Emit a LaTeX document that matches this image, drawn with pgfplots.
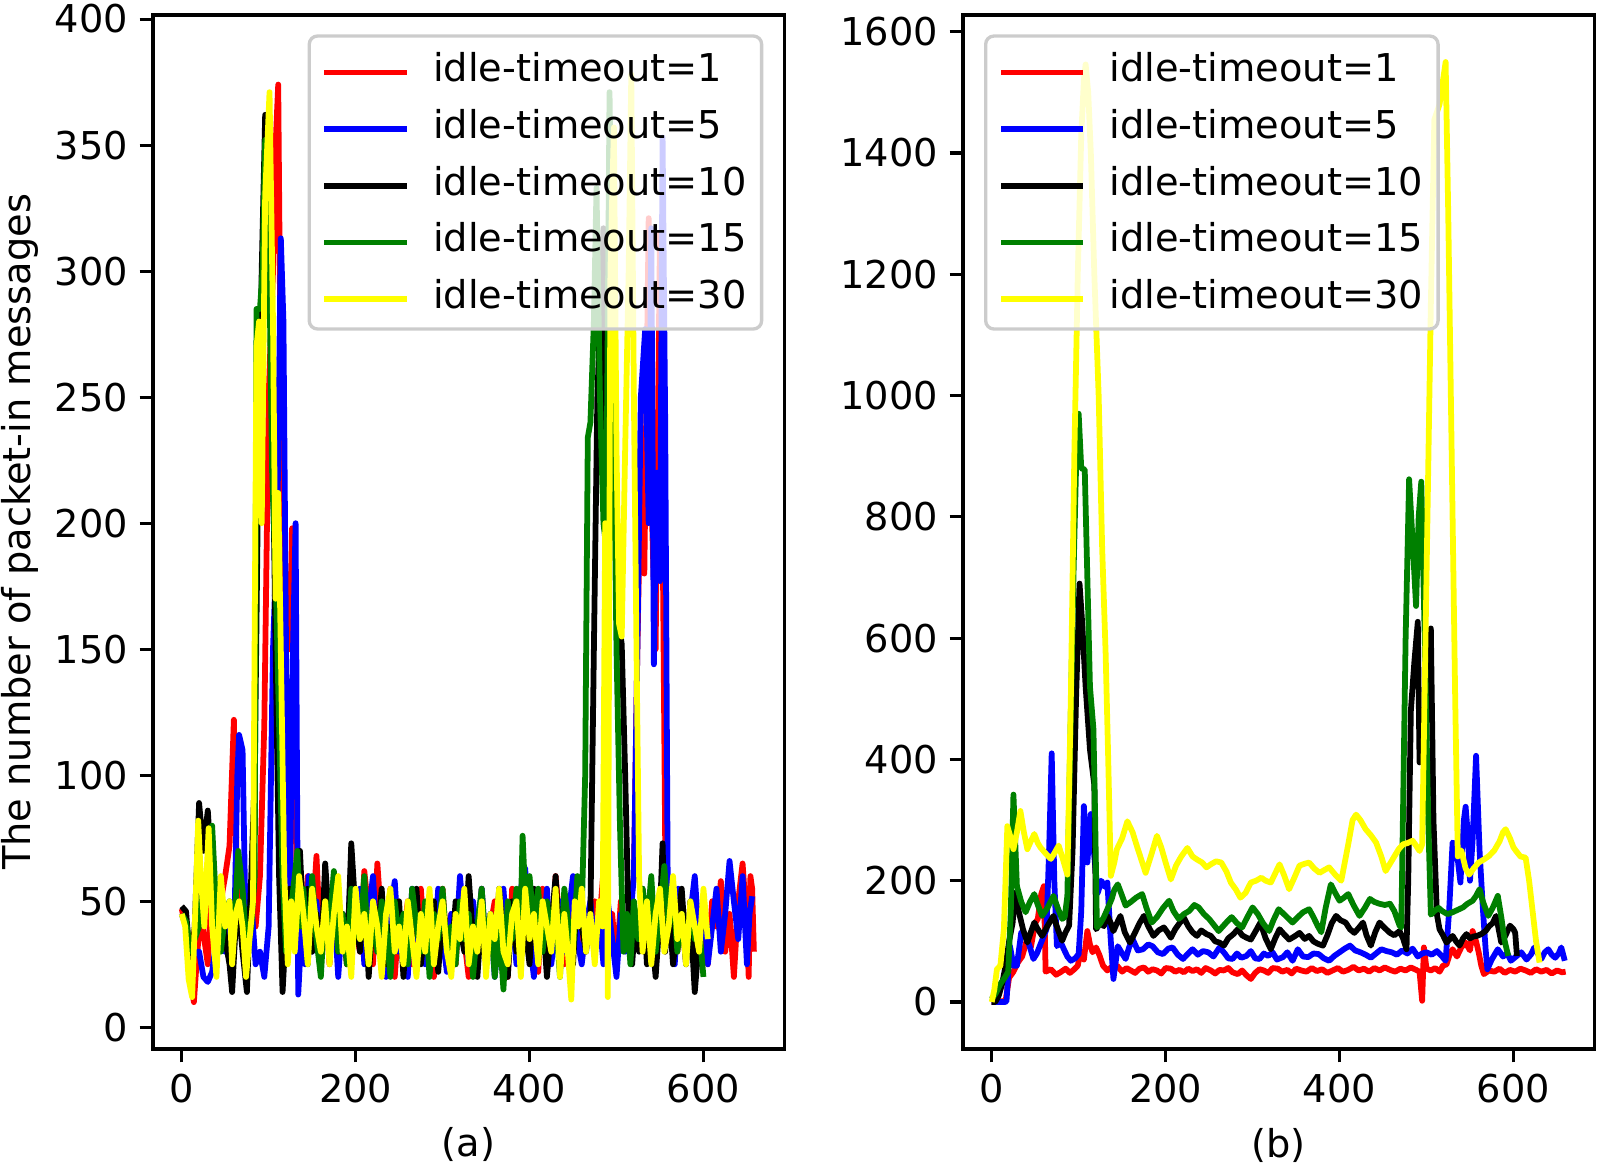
\documentclass[border=0pt]{standalone}
\usepackage{fontspec}
\setmainfont{DejaVu Sans}
\usepackage{pgfplots}
\pgfplotsset{compat=1.18}
\newcommand{\fs}{\fontsize{11.5}{13.8}\selectfont}
\definecolor{mgreen}{HTML}{008000}
\definecolor{myellow}{HTML}{FFFF00}
\pgfplotsset{
  panel/.style={
    scale only axis, width=189.4pt, height=310.2pt,
    xmin=-33, xmax=693, xtick={0,200,400,600},
    axis line style={line width=0.92pt},
    tick align=outside, xtick pos=bottom, ytick pos=left,
    major tick length=4pt,
    every tick/.style={black, line width=0.92pt},
    /pgf/number format/assume math mode=true,
    /pgf/number format/1000 sep={},
    scaled y ticks=false,
    tick label style={font=\fs},
    label style={font=\fs},
    xlabel style={at={(axis description cs:0.5,-0.0928)}, anchor=center},
    legend style={font=\fs, draw=black!20, line width=1pt, fill=white,
      fill opacity=0.8, text opacity=1, draw opacity=1, rounded corners=2.5pt,
      inner xsep=4.5pt, inner ysep=5pt, row sep=7.1pt, column sep=8pt,
      nodes={inner sep=0pt, text height=8.7pt, text depth=1.2pt}},
    legend cell align=left,
    legend image code/.code={\draw[##1, line cap=rect] (0pt,-1pt) -- (23pt,-1pt);},
    every axis plot/.append style={line width=1.73pt, line join=round},
  }
}
\begin{document}
\begin{tikzpicture}
\useasboundingbox (0,0) rectangle (480pt,349.2pt);
\begin{axis}[panel, at={(45.9pt,34.5pt)}, anchor=south west,
  ymin=-8.6, ymax=401.6, ytick={0,50,...,400},
  xlabel={(a)}, ylabel={The number of packet-in messages},
  ylabel style={at={(axis description cs:-0.2101,0.5)}, anchor=center},
  legend style={at={(1,1)}, anchor=north east, xshift=-6.3pt, yshift=-5.8pt}]
% idle-timeout=1
\addplot[red] coordinates {(0,47)(5,40)(10,20)(14,10)(18,30)(22,45)(26,35)(30,25)(35,60)(40,45)(45,50)(50,60)(55,72)(60,122)(64,50)(68,60)(72,30)(76,45)(80,55)(85,40)(90,60)(95,120)(100,250)(105,300)(108,350)(111,374)(114,250)(117,150)(120,180)(124,150)(127,198)(130,110)(133,40)(136,60)(140,35)(145,60)(150,40)(155,68)(160,30)(165,50)(170,25)(175,60)(180,35)(185,45)(190,25)(195,55)(200,40)(205,30)(210,62)(215,45)(220,25)(225,65)(230,40)(235,30)(240,55)(245,20)(250,45)(255,35)(260,50)(265,25)(270,40)(275,55)(280,30)(285,45)(290,20)(295,40)(300,55)(305,30)(310,45)(315,25)(320,50)(325,35)(330,20)(335,45)(340,30)(345,55)(350,25)(355,40)(360,50)(365,30)(370,45)(375,20)(380,55)(385,35)(390,28)(395,50)(400,30)(405,45)(410,22)(415,55)(420,40)(425,30)(430,60)(435,40)(440,25)(445,50)(450,35)(455,55)(460,30)(465,45)(470,35)(475,50)(480,40)(485,62)(490,30)(495,45)(500,25)(505,50)(510,35)(515,45)(520,60)(524,150)(528,222)(532,180)(537,321)(541,200)(545,150)(550,315)(553,200)(556,73)(560,40)(565,55)(570,30)(575,45)(580,25)(585,50)(590,30)(595,45)(600,35)(605,25)(610,50)(615,40)(620,58)(625,30)(630,45)(635,20)(640,50)(645,65)(650,40)(652,20)(654,60)(656,55)(658,30)};
\addlegendentry{idle-timeout=1}
% idle-timeout=5
\addplot[blue] coordinates {(0,45)(5,40)(10,25)(15,30)(20,30)(25,20)(30,18)(35,22)(40,35)(45,50)(50,30)(55,40)(60,30)(64,100)(66,116)(70,110)(73,50)(76,35)(80,50)(85,25)(90,30)(95,20)(100,40)(105,150)(110,200)(114,313)(117,280)(120,150)(124,40)(128,150)(131,200)(134,13)(138,40)(142,25)(146,60)(150,30)(155,50)(160,25)(165,60)(170,35)(175,50)(180,20)(185,45)(190,30)(195,65)(200,40)(205,55)(210,25)(215,45)(220,60)(225,30)(230,50)(235,20)(240,45)(245,58)(250,30)(255,40)(260,20)(265,55)(270,35)(275,45)(280,25)(285,50)(290,30)(295,55)(300,35)(305,22)(310,45)(315,30)(320,60)(325,40)(330,25)(335,50)(340,35)(345,55)(350,30)(355,45)(360,20)(365,40)(370,55)(375,30)(380,45)(385,25)(390,55)(395,63)(400,35)(405,20)(410,45)(415,30)(420,55)(425,25)(430,40)(435,50)(440,30)(445,45)(450,60)(455,35)(460,25)(465,40)(470,50)(475,30)(480,45)(485,25)(490,50)(495,35)(500,20)(505,45)(510,30)(515,40)(520,60)(524,150)(528,250)(533,277)(537,200)(540,317)(543,144)(546,220)(550,177)(553,353)(556,240)(559,50)(563,35)(567,25)(571,55)(575,40)(580,30)(585,45)(590,60)(595,35)(600,50)(605,25)(610,40)(615,55)(620,30)(625,45)(630,66)(635,50)(640,35)(645,60)(650,25)(653,45)(656,52)};
\addlegendentry{idle-timeout=5}
% idle-timeout=10
\addplot[black] coordinates {(0,48)(5,46)(10,25)(15,40)(20,89)(25,70)(30,86)(35,60)(40,40)(45,55)(50,35)(55,25)(58,14)(62,40)(66,45)(70,30)(75,14)(80,60)(84,100)(88,220)(92,300)(96,362)(100,340)(104,250)(108,150)(112,60)(116,14)(120,40)(124,55)(128,35)(132,45)(136,70)(140,40)(145,55)(150,30)(155,45)(160,25)(165,65)(170,40)(175,55)(180,30)(185,45)(190,25)(195,73)(200,45)(205,30)(210,55)(215,20)(220,45)(225,35)(230,55)(235,25)(240,40)(245,30)(250,50)(255,20)(260,45)(265,35)(270,55)(275,25)(280,40)(285,30)(290,50)(295,22)(300,45)(305,35)(310,25)(315,50)(320,40)(325,30)(330,60)(335,35)(340,20)(345,45)(350,30)(355,40)(360,25)(365,55)(370,35)(375,20)(380,50)(385,30)(390,45)(395,40)(400,25)(405,55)(410,30)(415,45)(420,20)(425,40)(430,60)(435,30)(440,50)(445,35)(450,25)(455,55)(460,40)(465,30)(470,45)(474,150)(478,250)(482,290)(485,317)(488,200)(492,260)(496,300)(500,200)(503,160)(506,152)(510,100)(514,40)(518,25)(522,45)(526,30)(530,55)(535,25)(540,40)(545,20)(550,45)(553,73)(556,30)(560,50)(565,25)(570,40)(575,55)(580,30)(585,45)(590,14)(595,35)(600,45)};
\addlegendentry{idle-timeout=10}
% idle-timeout=15
\addplot[mgreen] coordinates {(0,45)(5,42)(10,30)(15,35)(20,40)(25,60)(30,50)(35,80)(40,45)(45,30)(50,45)(55,50)(60,35)(65,70)(70,55)(75,30)(80,40)(84,60)(86,285)(90,285)(93,300)(96,352)(100,320)(104,220)(108,180)(112,120)(116,60)(120,30)(125,45)(130,60)(133,70)(137,40)(140,55)(145,25)(150,60)(155,35)(160,20)(165,50)(170,40)(175,62)(180,30)(185,45)(190,25)(195,55)(200,40)(205,35)(210,60)(215,25)(220,45)(225,30)(230,50)(235,40)(240,20)(245,50)(250,35)(255,45)(260,25)(265,55)(270,40)(275,30)(280,50)(285,20)(290,45)(295,35)(300,55)(305,30)(310,40)(315,25)(320,50)(325,35)(330,45)(335,20)(340,40)(345,55)(350,30)(355,45)(360,20)(365,40)(370,15)(375,50)(380,35)(385,55)(390,45)(392,76)(396,45)(400,60)(405,40)(410,55)(415,30)(420,50)(425,35)(430,45)(435,20)(440,55)(445,40)(450,30)(455,60)(460,45)(464,100)(467,234)(470,240)(474,280)(477,333)(481,250)(485,200)(488,191)(492,371)(496,260)(500,150)(504,80)(508,30)(512,45)(516,25)(520,50)(525,35)(530,55)(535,40)(540,60)(545,30)(550,45)(555,64)(560,40)(565,55)(570,30)(575,45)(580,25)(585,50)(590,35)(595,40)(600,20)};
\addlegendentry{idle-timeout=15}
% idle-timeout=30
\addplot[myellow] coordinates {(0,45)(4,40)(8,19)(12,12)(16,50)(19,82)(22,60)(26,40)(31,79)(35,40)(40,20)(45,60)(50,40)(55,50)(58,25)(62,45)(66,50)(70,40)(74,20)(78,35)(82,50)(86,270)(89,280)(92,200)(96,330)(101,371)(105,280)(108,170)(111,212)(114,150)(118,60)(122,25)(126,50)(130,30)(135,60)(140,45)(145,25)(150,55)(155,40)(160,30)(165,50)(170,25)(175,45)(180,60)(185,30)(190,40)(195,20)(200,55)(205,35)(210,45)(215,25)(220,50)(225,40)(230,20)(235,45)(240,55)(245,30)(250,40)(255,25)(260,50)(265,35)(270,20)(275,45)(280,30)(285,55)(290,25)(295,40)(300,50)(305,30)(310,20)(315,45)(320,35)(325,55)(330,25)(335,40)(340,30)(345,50)(350,20)(355,45)(360,35)(365,55)(370,30)(375,25)(380,45)(385,50)(390,20)(395,55)(400,35)(405,45)(410,25)(415,50)(420,40)(425,30)(430,55)(435,20)(440,45)(444,30)(448,11)(452,50)(456,40)(460,55)(465,30)(470,45)(475,25)(480,50)(484,40)(487,200)(490,12)(493,300)(497,357)(500,230)(503,160)(506,155)(510,230)(514,300)(517,378)(520,250)(523,150)(526,60)(530,30)(535,50)(540,25)(545,45)(550,55)(555,30)(560,40)(565,60)(570,35)(575,45)(580,25)(585,50)(590,40)(595,30)(600,55)(605,35)};
\addlegendentry{idle-timeout=30}
\end{axis}
\begin{axis}[panel, at={(288.9pt,34.5pt)}, anchor=south west,
  ymin=-77.5, ymax=1627.5, ytick={0,200,...,1600},
  xlabel={(b)},
  legend style={at={(0,1)}, anchor=north west, xshift=6.3pt, yshift=-5.8pt}]
% idle-timeout=1
\addplot[red] coordinates {(0,0)(5,0)(10,1)(16,2)(20,40)(25,50)(30,65)(35,75)(40,100)(45,90)(50,130)(53,137)(57,178)(60,191)(62,50)(68,54)(74,45)(79,49)(85,55)(90,48)(95,54)(99,60)(102,82)(106,70)(110,117)(113,95)(116,82)(120,90)(124,77)(128,60)(133,52)(138,58)(144,60)(150,50)(155,56)(160,52)(165,48)(170,55)(175,57)(180,50)(185,54)(190,52)(195,47)(200,56)(206,55)(211,50)(216,53)(221,49)(226,55)(231,51)(236,54)(241,48)(246,56)(252,52)(257,47)(262,53)(267,52)(272,56)(277,49)(283,46)(288,52)(293,44)(298,38)(303,48)(308,54)(313,52)(318,48)(323,56)(329,55)(334,50)(340,53)(345,47)(350,55)(356,52)(362,50)(368,56)(374,51)(380,54)(386,48)(392,52)(398,56)(404,50)(410,53)(416,58)(422,52)(428,55)(434,50)(440,56)(446,52)(452,57)(458,53)(464,50)(470,55)(476,52)(482,57)(488,53)(492,50)(495,2)(497,90)(500,55)(505,52)(510,56)(515,50)(519,60)(523,62)(527,80)(530,87)(535,75)(540,90)(545,98)(550,85)(553,117)(557,100)(560,82)(563,60)(566,46)(572,52)(578,50)(584,55)(590,48)(596,53)(602,50)(608,55)(614,52)(620,48)(626,54)(632,50)(638,53)(644,47)(650,52)(656,49)(660,50)};
\addlegendentry{idle-timeout=1}
% idle-timeout=5
\addplot[blue] coordinates {(0,0)(5,0)(10,0)(15,0)(17,1)(21,92)(25,60)(29,60)(34,115)(40,107)(44,90)(48,71)(52,80)(56,95)(60,109)(63,120)(66,250)(69,410)(72,200)(75,92)(79,100)(83,87)(87,75)(91,68)(96,72)(100,79)(103,150)(106,323)(110,230)(114,310)(118,240)(122,180)(126,200)(130,190)(133,197)(137,100)(140,38)(145,92)(150,80)(154,71)(158,90)(162,104)(168,85)(174,87)(180,95)(185,92)(191,82)(197,79)(203,88)(208,90)(214,78)(220,71)(226,80)(231,87)(237,78)(243,84)(249,82)(255,75)(262,90)(268,80)(272,72)(277,71)(282,80)(287,73)(293,76)(298,84)(303,72)(308,71)(313,80)(318,76)(323,82)(328,70)(335,74)(340,82)(346,68)(352,87)(358,75)(364,74)(370,80)(376,79)(382,72)(388,68)(394,76)(400,82)(406,88)(412,93)(418,85)(424,82)(430,78)(436,73)(442,80)(448,87)(454,84)(460,82)(466,78)(472,85)(478,80)(484,88)(490,75)(495,80)(500,82)(506,78)(512,84)(518,75)(522,68)(526,150)(530,263)(534,259)(539,197)(543,300)(545,322)(548,268)(550,200)(553,266)(557,406)(561,250)(565,150)(568,87)(570,54)(575,70)(582,87)(588,75)(593,80)(597,68)(603,75)(609,82)(615,70)(620,78)(624,90)(628,80)(632,71)(636,82)(640,87)(644,78)(648,73)(652,80)(655,90)(659,68)};
\addlegendentry{idle-timeout=5}
% idle-timeout=10
\addplot[black] coordinates {(0,0)(4,0)(8,10)(12,30)(16,60)(20,100)(24,130)(27,180)(31,150)(36,120)(41,98)(45,115)(49,131)(53,120)(58,109)(64,125)(71,142)(76,120)(81,101)(85,115)(89,126)(93,250)(97,500)(101,690)(104,626)(108,520)(113,416)(118,358)(120,120)(125,130)(129,125)(133,142)(137,130)(140,117)(144,130)(148,142)(153,115)(159,98)(165,115)(170,130)(175,142)(180,125)(186,109)(192,118)(198,123)(202,115)(206,106)(211,120)(216,130)(221,139)(226,125)(231,115)(236,109)(241,118)(247,112)(252,109)(257,100)(262,98)(267,93)(272,105)(278,112)(283,120)(288,110)(293,106)(298,103)(304,118)(309,131)(315,105)(321,87)(326,105)(331,120)(336,112)(342,103)(348,108)(354,114)(360,104)(365,109)(370,100)(375,96)(381,93)(386,110)(391,130)(396,142)(401,135)(407,131)(412,120)(417,114)(422,122)(427,131)(431,110)(436,93)(441,115)(446,131)(452,122)(458,114)(463,110)(469,117)(473,105)(477,87)(479,200)(482,480)(486,560)(490,627)(492,395)(495,470)(500,480)(505,616)(508,300)(512,144)(515,120)(519,110)(523,98)(527,104)(530,109)(534,100)(538,93)(542,105)(546,112)(550,105)(554,108)(558,109)(563,112)(568,117)(572,125)(576,130)(580,142)(586,98)(591,110)(596,126)(600,120)(602,114)(604,76)};
\addlegendentry{idle-timeout=10}
% idle-timeout=15
\addplot[mgreen] coordinates {(0,5)(5,15)(10,30)(15,40)(19,50)(22,150)(25,342)(29,191)(34,165)(39,148)(44,165)(49,178)(53,160)(58,142)(64,155)(71,175)(76,155)(81,137)(84,140)(87,175)(90,400)(94,700)(97,880)(100,970)(103,880)(107,878)(110,700)(113,520)(117,450)(119,300)(121,123)(125,130)(129,140)(133,153)(138,170)(141,185)(145,194)(150,175)(154,159)(160,165)(166,172)(173,178)(178,155)(184,131)(190,140)(197,155)(204,167)(209,150)(215,137)(221,145)(227,150)(233,160)(238,156)(244,145)(250,137)(255,128)(261,117)(266,125)(271,133)(276,140)(282,130)(288,123)(294,140)(300,156)(306,145)(312,130)(319,117)(324,135)(330,153)(336,145)(341,138)(346,131)(352,140)(358,148)(365,153)(370,140)(375,125)(379,115)(384,155)(390,194)(395,180)(400,167)(405,172)(410,178)(416,160)(423,142)(429,155)(435,170)(440,165)(446,162)(452,160)(458,162)(463,150)(469,126)(471,123)(476,600)(480,862)(484,760)(488,653)(491,800)(494,858)(498,600)(502,300)(505,144)(509,150)(514,155)(518,150)(524,145)(530,148)(536,152)(542,156)(547,162)(553,167)(557,175)(561,186)(565,165)(571,142)(576,155)(582,175)(586,140)(590,100)(594,76)};
\addlegendentry{idle-timeout=15}
% idle-timeout=30
\addplot[myellow] coordinates {(0,0)(3,20)(6,54)(10,60)(14,120)(18,290)(22,270)(25,252)(29,280)(33,315)(37,280)(41,252)(45,265)(49,277)(53,262)(56,255)(62,245)(68,236)(72,245)(77,258)(82,235)(87,210)(91,500)(95,900)(99,1200)(103,1430)(106,1520)(108,1546)(111,1500)(114,1400)(118,1200)(123,1000)(127,750)(131,576)(134,400)(137,208)(141,230)(144,252)(150,270)(156,298)(162,280)(167,257)(172,235)(177,213)(184,245)(190,274)(195,255)(200,230)(206,202)(212,225)(218,240)(225,254)(231,240)(236,235)(242,230)(247,222)(252,227)(258,232)(264,230)(270,215)(275,197)(281,185)(286,172)(292,180)(298,197)(304,200)(310,205)(315,200)(321,197)(326,212)(331,227)(336,210)(342,186)(348,205)(354,225)(360,228)(365,230)(371,220)(377,213)(383,218)(388,222)(395,210)(402,200)(410,260)(415,300)(419,309)(424,300)(430,285)(436,275)(442,263)(448,240)(453,216)(458,228)(463,240)(468,252)(473,260)(478,262)(484,266)(488,258)(492,249)(495,260)(500,700)(505,1150)(509,1455)(515,1480)(522,1550)(525,1300)(529,900)(533,500)(536,240)(540,250)(545,220)(549,210)(554,220)(560,230)(566,235)(572,241)(578,250)(584,265)(588,280)(591,285)(596,270)(600,255)(603,249)(608,240)(614,238)(618,200)(622,150)(626,100)(630,65)};
\addlegendentry{idle-timeout=30}
\end{axis}
\end{tikzpicture}
\end{document}
